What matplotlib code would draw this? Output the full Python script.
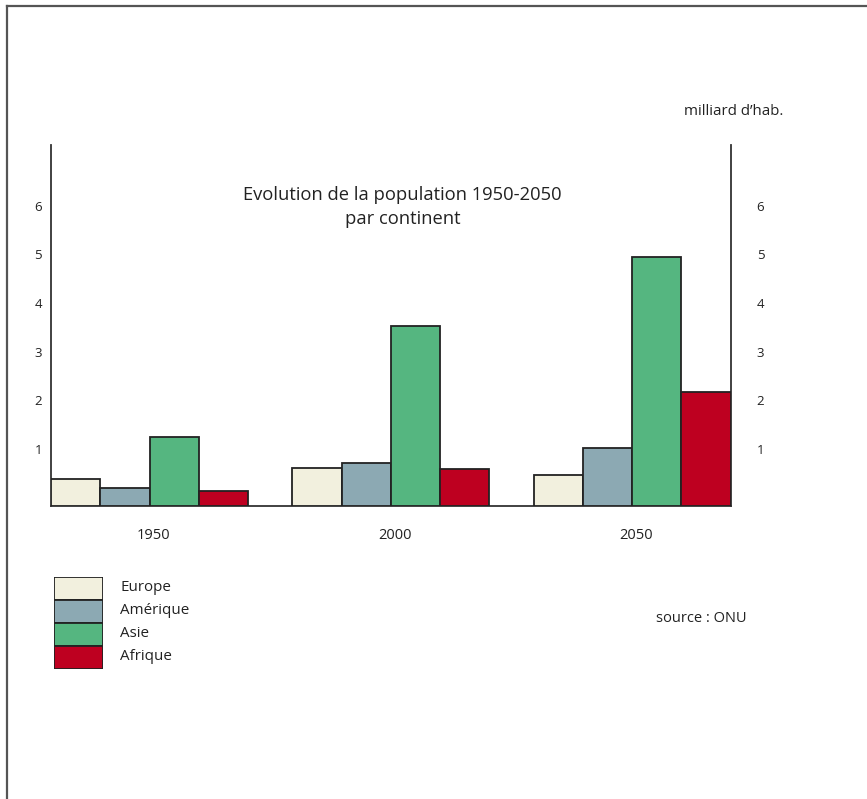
import matplotlib
matplotlib.use("Agg")
import matplotlib.pyplot as plt
import matplotlib.transforms as mtransforms
from matplotlib.lines import Line2D
import numpy as np

plt.rcParams['font.family'] = ['Open Sans', 'DejaVu Sans']

# ---- data ----
years = ["1950", "2000", "2050"]
continents = ["Europe", "Amérique", "Asie", "Afrique"]
europe = [0.55, 0.77, 0.63]
amerique = [0.36, 0.88, 1.18]
asie = [1.42, 3.69, 5.12]
afrique = [0.30, 0.75, 2.34]
series = [europe, amerique, asie, afrique]
colors = ["#F2F0DE", "#8CA9B3", "#55B680", "#BE0020"]
yticks = [1, 2, 3, 4, 5, 6]
title = "Evolution de la population 1950-2050\npar continent"
unit_label = "milliard d\u2019hab."
source = "source : ONU"

W, H = 867, 799
fig = plt.figure(figsize=(W / 100, H / 100), dpi=100)
fig.patch.set_facecolor("white")

# frame lines (top and left)
fig.add_artist(Line2D([7 / W, 1], [1 - 6 / H, 1 - 6 / H], transform=fig.transFigure,
                      color="#555555", lw=1.6))
fig.add_artist(Line2D([7 / W, 7 / W], [0, 1 - 6 / H], transform=fig.transFigure,
                      color="#555555", lw=1.6))

# main axes
x0, x1, y0, y1 = 51, 730.7, 145, 505.7
ax = fig.add_axes([x0 / W, 1 - y1 / H, (x1 - x0) / W, (y1 - y0) / H])

group_gap = 4.9
bar_w = 1.0
centers = np.arange(len(years)) * group_gap
for i, (vals, c) in enumerate(zip(series, colors)):
    xs = centers + (i - 1.5) * bar_w
    ax.bar(xs, vals, width=bar_w, color=c, edgecolor="#222222", linewidth=1.3, zorder=3)

ax.set_xlim(-2, centers[-1] + 2)
ax.set_ylim(0, 7.414)

ax.spines["top"].set_visible(False)
for s in ["left", "right", "bottom"]:
    ax.spines[s].set_color("#333333")
    ax.spines[s].set_linewidth(1.3)

ax.set_xticks(centers)
ax.set_xticklabels(years, fontsize=10.5, color="#222222")
ax.tick_params(axis="x", length=0, pad=16)
xoff = mtransforms.ScaledTranslation(4 / 100, 0, fig.dpi_scale_trans)
for t in ax.xaxis.get_major_ticks():
    t.label1.set_transform(t.label1.get_transform() + xoff)

ax.set_yticks(yticks)
ax.set_yticklabels([str(t) for t in yticks])
ax.tick_params(axis="y", length=0, pad=6.5, left=True, right=True,
               labelleft=True, labelright=True, labelsize=9.5, labelcolor="#222222")
off = mtransforms.ScaledTranslation(0, 8 / 100, fig.dpi_scale_trans)
roff = mtransforms.ScaledTranslation(17 / 100, 8 / 100, fig.dpi_scale_trans)
for t in ax.yaxis.get_major_ticks():
    t.label1.set_transform(t.label1.get_transform() + off)
    t.label2.set_transform(t.label2.get_transform() + roff)

# texts
fig.text(402.5 / W, 1 - 207 / H, title, ha="center", va="center", fontsize=13.2,
         color="#222222", linespacing=1.37)
fig.text(733.7 / W, 1 - 111.7 / H, unit_label, ha="center", va="center", fontsize=10.8,
         color="#222222")
fig.text(701.5 / W, 1 - 619 / H, source, ha="center", va="center", fontsize=10.5,
         color="#222222")

# legend drawn as a small axes
lx0, lx1, ly0, ly1 = 54.3, 103.3, 576.7, 669.3
lax = fig.add_axes([lx0 / W, 1 - ly1 / H, (lx1 - lx0) / W, (ly1 - ly0) / H])
ypos = np.arange(len(continents))
lax.barh(ypos, [1] * len(continents), height=1.0, color=colors, edgecolor="#222222",
         linewidth=1.3)
lax.set_xlim(0, 1)
lax.set_ylim(len(continents) - 0.5, -0.5)
lax.axis("off")
for yi, name in zip(ypos, continents):
    lax.text(1.35, yi - 0.05, name, transform=lax.transData, ha="left", va="center",
             fontsize=10.9, color="#222222", clip_on=False)

fig.savefig("out.png", dpi=100, facecolor="white")
